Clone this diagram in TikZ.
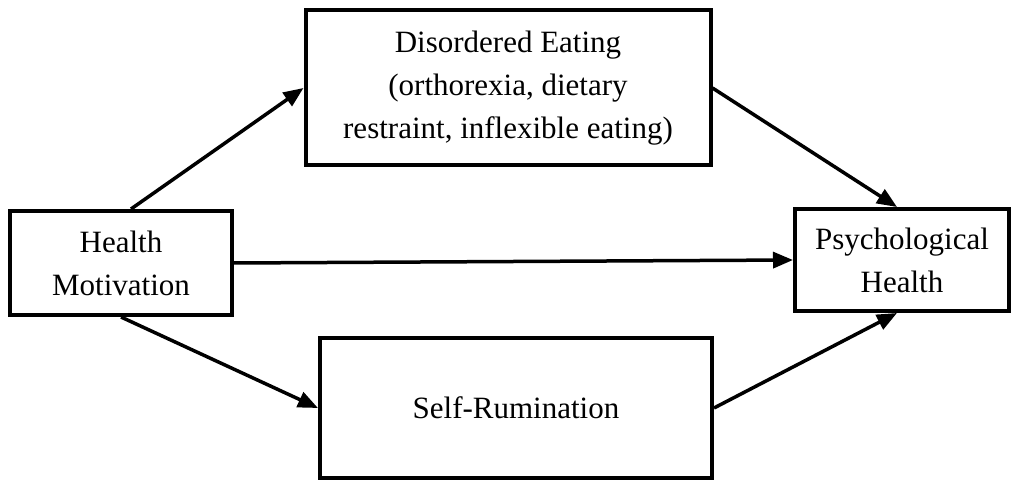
\documentclass[tikz,border=0pt]{standalone}
\usepackage{fontspec}
\setmainfont{Liberation Serif}
\usetikzlibrary{arrows.meta, positioning, calc}

\tikzset{
  varbox/.style={draw, line width=4pt, align=center,
                 font=\fontsize{31}{43}\selectfont, inner sep=0pt},
  path/.style={-{Triangle[length=20pt, width=16pt]}, line width=3.5pt}
}

\begin{document}
\begin{tikzpicture}[x=1pt, y=-1pt]
  \useasboundingbox (0,0) rectangle (1015,481);

  \node[varbox, minimum width=222pt, minimum height=104pt] (motiv)
    at (121,263) {Health\\Motivation};
  \node[varbox, minimum width=405pt, minimum height=155pt] (eating)
    at (508,88) {Disordered Eating\\(orthorexia, dietary\\restraint, inflexible eating)};
  \node[varbox, minimum width=214pt, minimum height=102pt] (psych)
    at (902,260) {Psychological\\Health};
  \node[varbox, minimum width=392pt, minimum height=140pt] (rumin)
    at (516,408) {Self-Rumination};

  \draw[path] ([xshift=10pt]motiv.north) -- (eating.west);
  \draw[path] (eating.east) -- ([xshift=-5pt]psych.north);
  \draw[path] (motiv.east) -- (psych.west);
  \draw[path] (motiv.south) -- (rumin.west);
  \draw[path] (rumin.east) -- ([xshift=-5pt]psych.south);
\end{tikzpicture}
\end{document}
